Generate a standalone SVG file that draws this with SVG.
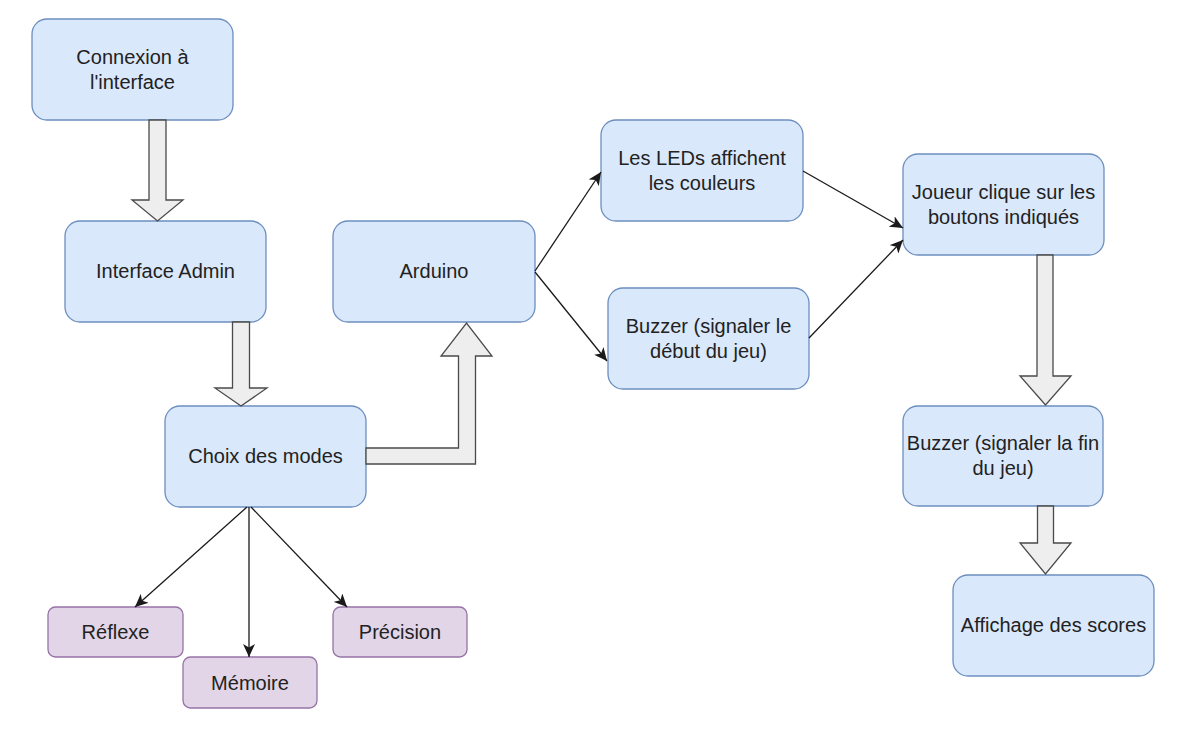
<svg xmlns="http://www.w3.org/2000/svg" width="1184" height="732" viewBox="0 0 1184 732">
<style>
.blue{fill:#dae8fc;stroke:#6c8ebf;stroke-width:1.3}
.purple{fill:#e1d5e7;stroke:#9673a6;stroke-width:1.3}
.block{fill:#eeeeee;stroke:#4a4a4a;stroke-width:1.3;stroke-linejoin:miter}
.line{fill:none;stroke:#1a1a1a;stroke-width:1.3}
text{font-family:"Liberation Sans",Arial,Helvetica,sans-serif;font-size:20px;fill:#222;text-anchor:middle}
</style>
<defs>
<marker id="arr" markerUnits="userSpaceOnUse" markerWidth="14" markerHeight="12" viewBox="0 0 14 12" refX="13" refY="6" orient="auto">
<path d="M0,0 L13,6 L0,12 L3.5,6 z" fill="#1a1a1a"/>
</marker>
</defs>
<rect width="1184" height="732" fill="#ffffff"/>
<g id="nodes">
<g id="n-connexion"><rect class="blue" x="32" y="19" width="201" height="101" rx="15"/><text x="132.5" y="64">Connexion à</text><text x="132.5" y="89">l'interface</text></g>
<g id="n-admin"><rect class="blue" x="65" y="221" width="201" height="101" rx="15"/><text x="165.5" y="278">Interface Admin</text></g>
<g id="n-choix"><rect class="blue" x="165" y="406" width="201" height="101" rx="15"/><text x="265.5" y="463">Choix des modes</text></g>
<g id="n-reflexe"><rect class="purple" x="48" y="607" width="135" height="50" rx="7.5"/><text x="115.5" y="639">Réflexe</text></g>
<g id="n-memoire"><rect class="purple" x="183" y="657" width="134" height="51" rx="7.5"/><text x="250" y="690">Mémoire</text></g>
<g id="n-precision"><rect class="purple" x="333" y="607" width="134" height="50" rx="7.5"/><text x="400" y="639">Précision</text></g>
<g id="n-arduino"><rect class="blue" x="333" y="221" width="202" height="101" rx="15"/><text x="434" y="278">Arduino</text></g>
<g id="n-leds"><rect class="blue" x="601" y="120" width="202" height="101" rx="15"/><text x="702" y="165">Les LEDs affichent</text><text x="702" y="190">les couleurs</text></g>
<g id="n-buzzer1"><rect class="blue" x="608" y="288" width="201" height="101" rx="15"/><text x="708.5" y="333">Buzzer (signaler le</text><text x="708.5" y="358">début du jeu)</text></g>
<g id="n-joueur"><rect class="blue" x="903" y="154" width="201" height="101" rx="15"/><text x="1003.5" y="199">Joueur clique sur les</text><text x="1003.5" y="224">boutons indiqués</text></g>
<g id="n-buzzer2"><rect class="blue" x="903" y="406" width="200" height="100" rx="15"/><text x="1003" y="450">Buzzer (signaler la fin</text><text x="1003" y="475">du jeu)</text></g>
<g id="n-affichage"><rect class="blue" x="953" y="575" width="201" height="101" rx="15"/><text x="1053.5" y="632">Affichage des scores</text></g>
</g>
<g id="connectors">
<polygon class="block" points="149,120 166,120 166,200 183,200 157.5,221 132,200 149,200"/>
<polygon class="block" points="232.5,322 249.5,322 249.5,388 267,388 241,406 215,388 232.5,388"/>
<polygon class="block" points="366,448 458.5,448 458.5,356 441,356 466.5,323 492,356 475.5,356 475.5,464 366,464"/>
<polygon class="block" points="1037,255 1053,255 1053,376 1071,376 1045.5,405 1020,376 1037,376"/>
<polygon class="block" points="1037.5,506 1053.5,506 1053.5,543 1071,543 1045.5,574 1020,543 1037.5,543"/>
<line class="line" x1="247" y1="507" x2="135" y2="607" marker-end="url(#arr)"/>
<line class="line" x1="249" y1="507" x2="249" y2="657" marker-end="url(#arr)"/>
<line class="line" x1="251" y1="507" x2="347" y2="607" marker-end="url(#arr)"/>
<line class="line" x1="535" y1="271" x2="601" y2="172" marker-end="url(#arr)"/>
<line class="line" x1="535" y1="272" x2="607" y2="361" marker-end="url(#arr)"/>
<line class="line" x1="803" y1="171" x2="903" y2="228" marker-end="url(#arr)"/>
<line class="line" x1="809" y1="338" x2="903" y2="240" marker-end="url(#arr)"/>
</g>
</svg>
